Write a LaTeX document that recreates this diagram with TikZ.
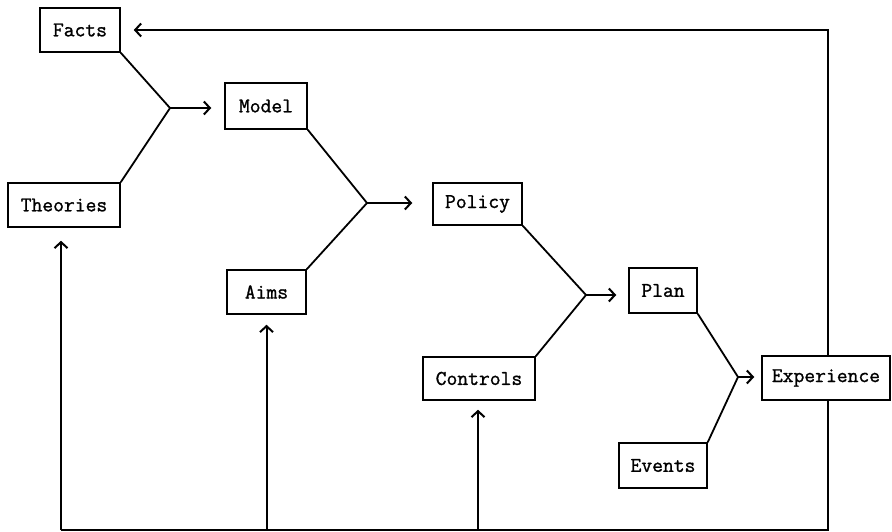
\documentclass[tikz,border=0pt]{standalone}
\usepackage{fontspec}
\setmonofont{Latin Modern Mono}[FakeBold=1.2]
\usetikzlibrary{arrows.meta}
\tikzset{
  box/.style={draw, line width=1.5pt, inner sep=0pt, font=\fontsize{21}{25}\selectfont\ttfamily},
  link/.style={line width=1.8pt},
  flow/.style={line width=2pt, -{Straight Barb[length=6pt,width=13pt,line width=2pt]}},
}
\begin{document}
\begin{tikzpicture}[x=1pt,y=-1pt]
\useasboundingbox (0,0) rectangle (892,532);
% boxes
\node[box, minimum width=80, minimum height=44] (facts) at (80,30) {Facts};
\node[box, minimum width=112, minimum height=44] (theories) at (64,205) {Theories};
\node[box, minimum width=82, minimum height=46] (model) at (266,106) {Model};
\node[box, minimum width=79, minimum height=44] (aims) at (266.5,292) {Aims};
\node[box, minimum width=89, minimum height=42] (policy) at (477.5,204) {Policy};
\node[box, minimum width=112, minimum height=43] (controls) at (479,378.5) {Controls};
\node[box, minimum width=68, minimum height=45] (plan) at (663,290.5) {Plan};
\node[box, minimum width=88, minimum height=45] (events) at (663,465.5) {Events};
\node[box, minimum width=128, minimum height=44] (exp) at (826,378) {Experience};
% junctions
\coordinate (j1) at (170,108);
\coordinate (j2) at (367,203);
\coordinate (j3) at (586,295);
\coordinate (j4) at (738,377);
\coordinate (bot) at (0,530);
% forks
\draw[link] (facts.south east) -- (j1) -- (theories.north east);
\draw[flow] (j1) -- ([xshift=-13pt]model.west |- j1);
\draw[link] (model.south east) -- (j2) -- (aims.north east);
\draw[flow] (j2) -- ([xshift=-20pt]policy.west |- j2);
\draw[link] (policy.south east) -- (j3) -- (controls.north east);
\draw[flow] (j3) -- ([xshift=-12pt]plan.west |- j3);
\draw[link] (plan.south east) -- (j4) -- (events.north east);
\draw[flow] (j4) -- ([xshift=-7pt]exp.west |- j4);
% feedback
\draw[flow] ([xshift=2pt]exp.north) -- ([xshift=2pt]exp.north |- facts.east) -- ([xshift=13pt]facts.east);
\draw[link] ([xshift=2pt]exp.south) -- ([xshift=2pt]exp.south |- bot) -- ([xshift=-3pt]theories.south |- bot);
\draw[flow] ([xshift=-3pt]theories.south |- bot) -- ([xshift=-3pt,yshift=-13pt]theories.south);
\draw[flow] (aims.south |- bot) -- ([yshift=-10pt]aims.south);
\draw[flow] ([xshift=-1pt]controls.south |- bot) -- ([xshift=-1pt,yshift=-9pt]controls.south);
\end{tikzpicture}
\end{document}
